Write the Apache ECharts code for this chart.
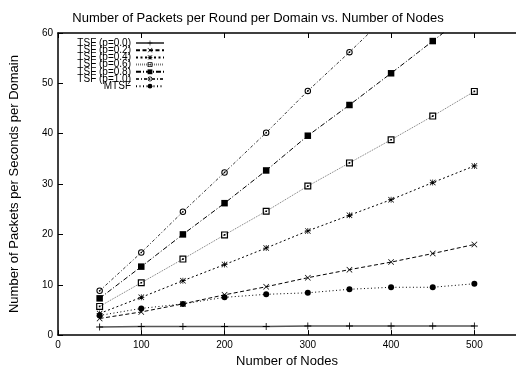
<!DOCTYPE html>
<html>
<head>
<meta charset="utf-8">
<script src="https://cdn.jsdelivr.net/npm/echarts@6/dist/echarts.min.js"></script>
<style>
  html, body { margin: 0; padding: 0; background: #fff; }
  #chart { width: 516px; height: 373px; }
</style>
</head>
<body>
<div id="chart"></div>
<script>
// Node counts on the x axis
const nodes = [50, 100, 150, 200, 250, 300, 350, 400, 450, 500];

// Packets per round per domain for each scheme
const tsf00 = [1.6, 1.7, 1.7, 1.7, 1.7, 1.8, 1.8, 1.8, 1.8, 1.8];
const tsf02 = [3.3, 4.6, 6.2, 8.0, 9.6, 11.4, 13.0, 14.5, 16.2, 18.0];
const tsf04 = [4.3, 7.5, 10.8, 14.0, 17.3, 20.7, 23.8, 26.9, 30.3, 33.6];
const tsf06 = [5.7, 10.4, 15.1, 19.9, 24.6, 29.6, 34.2, 38.8, 43.5, 48.4];
const tsf08 = [7.3, 13.6, 20.0, 26.2, 32.7, 39.6, 45.7, 52.0, 58.4, 64.8];
const tsf10 = [8.8, 16.4, 24.5, 32.3, 40.2, 48.5, 56.2, 64.2, 72.2, 80.2];
const mtsf  = [3.9, 5.3, 6.2, 7.5, 8.1, 8.4, 9.1, 9.5, 9.5, 10.2];

const seriesNames = ['TSF (p=0.0)', 'TSF (p=0.2)', 'TSF (p=0.4)', 'TSF (p=0.6)',
                     'TSF (p=0.8)', 'TSF (p=1.0)', 'MTSF'];

// Point-marker glyphs
const PLUS = 'path://M0,4.4H10V5.6H0Z M4.4,0H5.6V10H4.4Z';
const CROSS = 'path://M0,0.8L0.8,0L10,9.2L9.2,10Z M9.2,0L10,0.8L0.8,10L0,9.2Z';
const STAR = 'path://M0,0.8L0.8,0L10,9.2L9.2,10Z M9.2,0L10,0.8L0.8,10L0,9.2Z M0,4.4H10V5.6H0Z M4.4,0H5.6V10H4.4Z';
// outlined square / circle with a centre dot
const BOX_DOT = 'path://M0,0H10V10H0Z M1.7,1.7V8.3H8.3V1.7Z M3.8,3.8H6.2V6.2H3.8Z';
const RING_DOT = 'path://M5,0A5,5 0 1,1 4.99,0Z M5,1.6A3.4,3.4 0 1,0 5.01,1.6Z M5,3.7A1.3,1.3 0 1,1 4.99,3.7Z';

function pairs(vals) {
  return nodes.map((n, i) => [n, vals[i]]);
}

function makeSeries(name, vals, symbol, size, lineColor, lineType, lineWidth) {
  return {
    name: name,
    type: 'line',
    data: pairs(vals),
    symbol: symbol,
    symbolSize: size,
    showAllSymbol: true,
    clip: true,
    lineStyle: { color: lineColor, type: lineType, width: lineWidth },
    itemStyle: { color: '#000', borderWidth: 0 },
    emphasis: { disabled: true },
    animation: false
  };
}

const chart = echarts.init(document.getElementById('chart'), null, { renderer: 'canvas' });

const FONT = 'Liberation Sans';

chart.setOption({
  backgroundColor: '#fff',
  animation: false,
  title: {
    text: 'Number of Packets per Round per Domain vs. Number of Nodes',
    left: 'center',
    top: 7,
    textStyle: { fontFamily: FONT, fontSize: 13, fontWeight: 'normal', color: '#000' }
  },
  legend: {
    orient: 'vertical',
    align: 'right',
    right: 351,
    top: 38,
    itemWidth: 28,
    itemHeight: 6,
    itemGap: -2.8,
    padding: 0,
    data: seriesNames,
    selectedMode: false,
    textStyle: { fontFamily: FONT, fontSize: 10, color: '#000', padding: [0, 0, 0, 0] }
  },
  grid: { left: 56, right: -5, top: 33, bottom: 32, containLabel: false },
  xAxis: [{
    type: 'value',
    min: 0,
    max: 550,
    interval: 100,
    name: 'Number of Nodes',
    nameLocation: 'middle',
    nameGap: 16,
    nameTextStyle: { fontFamily: FONT, fontSize: 13, color: '#000' },
    axisLine: { show: true, onZero: false, lineStyle: { color: '#000', width: 1.5 } },
    axisTick: { show: true, inside: true, length: 5, lineStyle: { color: '#000', width: 1 } },
    axisLabel: { fontFamily: FONT, fontSize: 10, color: '#000', margin: 5, showMaxLabel: false },
    splitLine: { show: false }
  }, {
    type: 'value',
    position: 'top',
    min: 0,
    max: 550,
    interval: 100,
    axisLine: { show: true, onZero: false, lineStyle: { color: '#000', width: 1.5 } },
    axisTick: { show: true, inside: true, length: 5, lineStyle: { color: '#000', width: 1 } },
    axisLabel: { show: false },
    splitLine: { show: false }
  }],
  yAxis: {
    type: 'value',
    min: 0,
    max: 60,
    interval: 10,
    name: 'Number of Packets per Seconds per Domain',
    nameLocation: 'middle',
    nameGap: 37,
    nameTextStyle: { fontFamily: FONT, fontSize: 13, color: '#000' },
    axisLine: { show: true, onZero: false, lineStyle: { color: '#000', width: 1.5 } },
    axisTick: { show: true, inside: true, length: 5, lineStyle: { color: '#000', width: 1 } },
    axisLabel: { fontFamily: FONT, fontSize: 10, color: '#000', margin: 5 },
    splitLine: { show: false }
  },
  series: [
    makeSeries(seriesNames[0], tsf00, PLUS, 7, '#555', 'solid', 1.5),
    makeSeries(seriesNames[1], tsf02, CROSS, 6, '#000', [4, 2.5], 1),
    makeSeries(seriesNames[2], tsf04, STAR, 6, '#000', [2, 2.5], 1),
    makeSeries(seriesNames[3], tsf06, BOX_DOT, 7, '#777', [1, 1], 1),
    makeSeries(seriesNames[4], tsf08, 'rect', 6.5, '#000', [5, 2, 1, 2], 1),
    makeSeries(seriesNames[5], tsf10, RING_DOT, 6.5, '#333', [3, 2, 1, 2], 1),
    makeSeries(seriesNames[6], mtsf, 'circle', 6, '#000', [1, 2.5], 1)
  ]
});
</script>
</body>
</html>
